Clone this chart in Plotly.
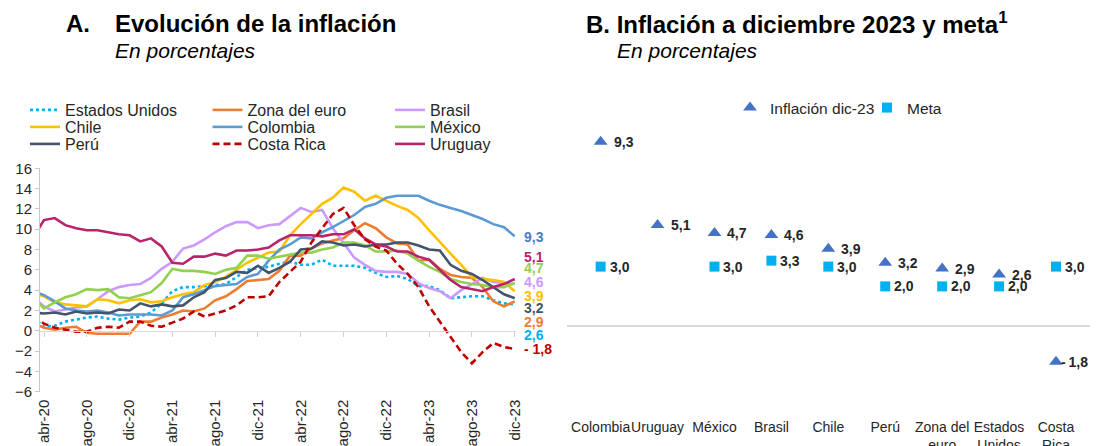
import plotly.graph_objects as go
import pandas as pd

FONT = "Liberation Sans, Arial, sans-serif"
TXT = "#262626"
PAGE_W, PAGE_H = 1103, 446
OFF = 8                      # default body margin of the page
W, H = PAGE_W - OFF, PAGE_H - OFF

# ---------------- Panel A data (monthly, mar-20 .. dic-23) ----------------
abbr = ['ene', 'feb', 'mar', 'abr', 'may', 'jun', 'jul', 'ago', 'sep', 'oct', 'nov', 'dic']
meses = [f"{abbr[d.month - 1]}-{d.strftime('%y')}" for d in pd.date_range('2020-03-01', '2023-12-01', freq='MS')]
tick_labels = ['abr-20', 'ago-20', 'dic-20', 'abr-21', 'ago-21', 'dic-21',
               'abr-22', 'ago-22', 'dic-22', 'abr-23', 'ago-23', 'dic-23']

estados_unidos = [1.3, 0.4, 0.5, 0.9, 1.1, 1.3, 1.4, 1.2, 1.1, 1.3,
                  1.4, 1.8, 2.7, 3.9, 4.3, 4.3, 4.4, 4.5, 4.6, 5.3, 6.0, 6.2,
                  6.3, 6.6, 6.8, 6.5, 6.5, 7.0, 6.4, 6.4, 6.4, 6.2, 5.7, 5.3,
                  5.4, 5.1, 4.4, 4.4, 4.0, 3.2, 3.3, 3.4, 3.4, 3.0, 2.7, 2.6]
zona_euro = [0.7, 0.3, 0.1, 0.3, 0.4, -0.2, -0.3, -0.3, -0.3, -0.3,
             0.9, 0.9, 1.3, 1.6, 2.0, 1.9, 2.2, 3.0, 3.4, 4.1, 4.9, 5.0,
             5.1, 5.9, 7.4, 7.4, 8.1, 8.6, 8.9, 9.1, 9.9, 10.6, 10.1, 9.2,
             8.6, 8.5, 6.9, 7.0, 6.1, 5.5, 5.3, 5.2, 4.3, 2.9, 2.4, 2.9]
brasil = [3.3, 2.4, 1.9, 2.1, 2.3, 2.4, 3.1, 3.9, 4.3, 4.5,
          4.6, 5.2, 6.1, 6.8, 8.1, 8.4, 9.0, 9.7, 10.3, 10.7, 10.7, 10.1,
          10.4, 10.5, 11.3, 12.1, 11.7, 11.9, 10.1, 8.7, 7.2, 6.5, 5.9, 5.8,
          5.8, 5.6, 4.7, 4.2, 3.9, 3.2, 4.0, 4.6, 5.2, 4.8, 4.7, 4.6]
chile = [3.7, 3.4, 2.8, 2.6, 2.5, 2.4, 3.1, 3.0, 2.7, 3.0,
         3.1, 2.8, 2.9, 3.3, 3.6, 3.8, 4.5, 4.8, 5.3, 6.0, 6.7, 7.2,
         7.7, 7.8, 9.4, 10.5, 11.5, 12.5, 13.1, 14.1, 13.7, 12.8, 13.3, 12.8,
         12.3, 11.9, 11.1, 9.9, 8.7, 7.6, 6.5, 5.3, 5.1, 5.0, 4.8, 3.9]
colombia = [3.9, 3.5, 2.9, 2.2, 2.0, 1.9, 2.0, 1.8, 1.5, 1.6,
            1.6, 1.6, 1.5, 2.0, 3.3, 3.6, 4.0, 4.4, 4.5, 4.6, 5.3, 5.6,
            6.9, 8.0, 8.5, 9.2, 9.1, 9.7, 10.2, 10.8, 11.4, 12.2, 12.5, 13.1,
            13.3, 13.3, 13.3, 12.8, 12.4, 12.1, 11.8, 11.4, 11.0, 10.5, 10.2, 9.3]
mexico = [3.3, 2.2, 2.8, 3.3, 3.6, 4.1, 4.0, 4.1, 3.3, 3.2,
          3.5, 3.8, 4.7, 6.1, 5.9, 5.9, 5.8, 5.6, 6.0, 6.2, 7.4, 7.4,
          7.1, 7.3, 7.5, 7.7, 7.7, 8.0, 8.2, 8.7, 8.7, 8.4, 7.8, 7.8,
          7.9, 7.6, 6.9, 6.3, 5.8, 5.1, 4.8, 4.6, 4.5, 4.3, 4.3, 4.7]
peru = [1.8, 1.7, 1.8, 1.6, 1.9, 1.7, 1.8, 1.7, 2.1, 2.0,
        2.7, 2.4, 2.6, 2.4, 2.5, 3.3, 3.8, 5.0, 5.2, 5.8, 5.7, 6.4,
        5.7, 6.2, 6.8, 8.0, 8.1, 8.8, 8.7, 8.4, 8.5, 8.3, 8.5, 8.5,
        8.7, 8.7, 8.4, 8.0, 7.9, 6.5, 5.9, 5.6, 5.0, 4.3, 3.6, 3.2]
costa_rica = [1.5, 0.7, 0.3, 0.1, -0.1, -0.1, 0.3, 0.4, 0.3, 0.9,
              0.9, 0.5, 0.4, 0.8, 1.2, 1.9, 1.4, 1.7, 2.0, 2.5, 3.3, 3.3,
              3.4, 4.8, 5.8, 6.8, 8.7, 10.1, 11.5, 12.1, 10.4, 9.0, 8.3, 7.9,
              6.6, 5.6, 4.3, 2.4, 0.9, -0.7, -2.1, -3.2, -2.1, -1.2, -1.6, -1.8]
uruguay = [9.2, 10.9, 11.1, 10.4, 10.1, 9.9, 9.9, 9.7, 9.5, 9.4,
           8.8, 9.1, 8.3, 6.7, 6.6, 7.3, 7.3, 7.6, 7.4, 7.9, 7.9, 8.0,
           8.2, 8.9, 9.4, 9.4, 9.4, 9.3, 9.5, 9.5, 10.0, 9.1, 8.5, 8.3,
           7.8, 7.8, 7.3, 7.0, 6.0, 5.0, 4.3, 4.1, 3.9, 4.3, 4.6, 5.1]

# ---------------- Panel B data ----------------
paises_b = ["Colombia", "Uruguay", "México", "Brasil", "Chile", "Perú",
            "Zona del<br>euro", "Estados<br>Unidos", "Costa<br>Rica"]
inflacion_dic23 = [9.3, 5.1, 4.7, 4.6, 3.9, 3.2, 2.9, 2.6, -1.8]
meta = [3.0, None, 3.0, 3.3, 3.0, 2.0, 2.0, 2.0, 3.0]


def fmt(v, sep=" "):
    if v is None:
        return ""
    s = f"{abs(v):.1f}".replace('.', ',')
    return ("-" + sep + s) if v < 0 else s


def px(x):
    """page pixel x -> paper fraction"""
    return (x - OFF) / W


def py(y):
    """page pixel y (from top) -> paper fraction"""
    return (H - (y - OFF)) / H


# (name, values, color, dash, legend, rank, end-label y position)
series = [
    ("Estados Unidos", estados_unidos, "#00B0F0", "dot", "legend", 1, -0.45),
    ("Zona del euro", zona_euro, "#ED7D31", "solid", "legend", 2, 0.85),
    ("Brasil", brasil, "#CC99FF", "solid", "legend", 3, 4.8),
    ("Chile", chile, "#FFC000", "solid", "legend2", 1, 3.45),
    ("Colombia", colombia, "#5B9BD5", "solid", "legend2", 2, 9.25),
    ("México", mexico, "#92D050", "solid", "legend2", 3, 6.15),
    ("Perú", peru, "#44546A", "solid", "legend3", 1, 2.2),
    ("Uruguay", uruguay, "#B8246A", "solid", "legend3", 3, 7.3),
    ("Costa Rica", costa_rica, "#C00000", "7px,4px", "legend3", 2, -1.83),
]

fig = go.Figure()
annotations = []
for name, vals, color, dash, leg, rank, ly in series:
    fig.add_trace(go.Scatter(
        x=meses, y=vals, mode="lines", name=name,
        line=dict(color=color, width=2.6, dash=dash),
        legend=leg, legendrank=rank, xaxis="x", yaxis="y",
        hoverinfo="skip", cliponaxis=True))
    label_color = "#4A7CC4" if name == "Colombia" else color
    annotations.append(dict(
        x=meses[-1], y=ly, xref="x", yref="y", text=fmt(vals[-1]),
        showarrow=False, xanchor="left", yanchor="middle", xshift=7,
        font=dict(family=FONT, size=14, color=label_color, weight="bold")))

# invisible trace to anchor the zero-line tick axis
fig.add_trace(go.Scatter(x=[], y=[], xaxis="x3", yaxis="y", showlegend=False, hoverinfo="skip"))

# Panel B traces
fig.add_trace(go.Scatter(
    x=paises_b, y=inflacion_dic23, mode="markers", name="Inflación dic-23",
    marker=dict(symbol="triangle-up", size=12, color="#4472C4"),
    xaxis="x2", yaxis="y2", legend="legend4", hoverinfo="skip", cliponaxis=False))
fig.add_trace(go.Scatter(
    x=paises_b, y=meta, mode="markers", name="Meta",
    marker=dict(symbol="square", size=10, color="#00B0F0"),
    xaxis="x2", yaxis="y2", legend="legend4", hoverinfo="skip", cliponaxis=False))

# Panel B value labels (right of each marker)
for pais, v in zip(paises_b, inflacion_dic23):
    annotations.append(dict(
        x=pais, y=v, xref="x2", yref="y2", text=fmt(v, "\u2009"), showarrow=False,
        xanchor="left", yanchor="middle", xshift=11 if v >= 0 else 3,
        font=dict(family=FONT, size=14, color=TXT, weight="bold")))
for pais, v in zip(paises_b, meta):
    if v is None:
        continue
    annotations.append(dict(
        x=pais, y=v, xref="x2", yref="y2", text=fmt(v), showarrow=False,
        xanchor="left", yanchor="middle", xshift=7,
        font=dict(family=FONT, size=14, color=TXT, weight="bold")))

# ---------------- Geometry (reference page pixels) ----------------
ax_dom = [px(40), px(516)]
ay_dom = [py(391.7), py(168.3)]
y_min, y_max = -6, 16
zero_pos = ay_dom[0] + (0 - y_min) / (y_max - y_min) * (ay_dom[1] - ay_dom[0])
i_ticks = [meses.index(t) for t in tick_labels]
x_range = [0.626, len(meses) - 1 + 0.12]

bx_dom = [px(567), px(1090)]
by_dom = [py(405.2), py(128)]


def title(x, y, text, size, bold=False, italic=False):
    annotations.append(dict(
        x=px(x), y=py(y), xref="paper", yref="paper", text=text,
        showarrow=False, xanchor="left", yanchor="middle",
        font=dict(family=FONT, size=size, color="#000000",
                  weight="bold" if bold else "normal",
                  style="italic" if italic else "normal")))


title(64, 23, "A.", 24, bold=True)
title(113, 23, "Evolución de la inflación", 24, bold=True)
title(113, 50, "En porcentajes", 21, italic=True)
title(584, 23, "B. Inflación a diciembre 2023 y meta<sup>1</sup>", 24, bold=True)
title(615, 50, "En porcentajes", 21, italic=True)

legend_common = dict(orientation="h", xanchor="left", yanchor="middle",
                     bgcolor="rgba(0,0,0,0)", borderwidth=0, itemwidth=30,
                     entrywidth=137.5, entrywidthmode="pixels", traceorder="normal",
                     font=dict(family=FONT, size=16, color=TXT), itemclick=False)

fig.update_layout(
    width=W, height=H, autosize=False,
    margin=dict(l=0, r=0, t=0, b=0, autoexpand=False),
    paper_bgcolor="white", plot_bgcolor="white",
    font=dict(family=FONT, color=TXT),
    showlegend=True,
    legend=dict(x=px(25), y=py(110), **legend_common),
    legend2=dict(x=px(25), y=py(127), **legend_common),
    legend3=dict(x=px(25), y=py(144), **legend_common),
    legend4=dict(x=px(730), y=py(108), orientation="h", xanchor="left", yanchor="middle",
                 bgcolor="rgba(0,0,0,0)", itemwidth=30, entrywidth=92, entrywidthmode="pixels",
                 font=dict(family=FONT, size=15.5, color=TXT), itemclick=False),
    xaxis=dict(domain=ax_dom, anchor="y", type="category", range=x_range, automargin=False,
               tickmode="array", tickvals=tick_labels, ticktext=tick_labels,
               tickangle=-90, showgrid=False, showline=False, ticks="",
               zeroline=False, tickfont=dict(family=FONT, size=15, color=TXT),
               ticklabelstandoff=4),
    xaxis3=dict(domain=ax_dom, anchor="free", position=zero_pos, overlaying="x",
                range=x_range, tickmode="array", tickvals=i_ticks, automargin=False,
                showticklabels=False, ticks="outside", ticklen=5, tickcolor="#D0D0D0",
                showline=True, linecolor="#D9D9D9", linewidth=1, showgrid=False, zeroline=False),
    yaxis=dict(domain=ay_dom, anchor="x", range=[y_min, y_max], dtick=2, tick0=0,
               automargin=False,
               showgrid=False, zeroline=False, showline=True, linecolor="#C8C8C8",
               ticks="outside", ticklen=4, tickcolor="#C8C8C8",
               tickfont=dict(family=FONT, size=15, color=TXT)),
    xaxis2=dict(domain=bx_dom, anchor="y2", type="category", showgrid=False, automargin=False,
                showline=False, ticks="", zeroline=False, tickangle=0,
                ticklabelstandoff=12,
                tickfont=dict(family=FONT, size=14, color=TXT)),
    yaxis2=dict(domain=by_dom, anchor="x2", range=[-4, 10], showgrid=False, automargin=False,
                showticklabels=False, ticks="", showline=False,
                zeroline=True, zerolinecolor="#D9D9D9", zerolinewidth=1.5),
    annotations=annotations,
)

fig.write_html("out.html")
